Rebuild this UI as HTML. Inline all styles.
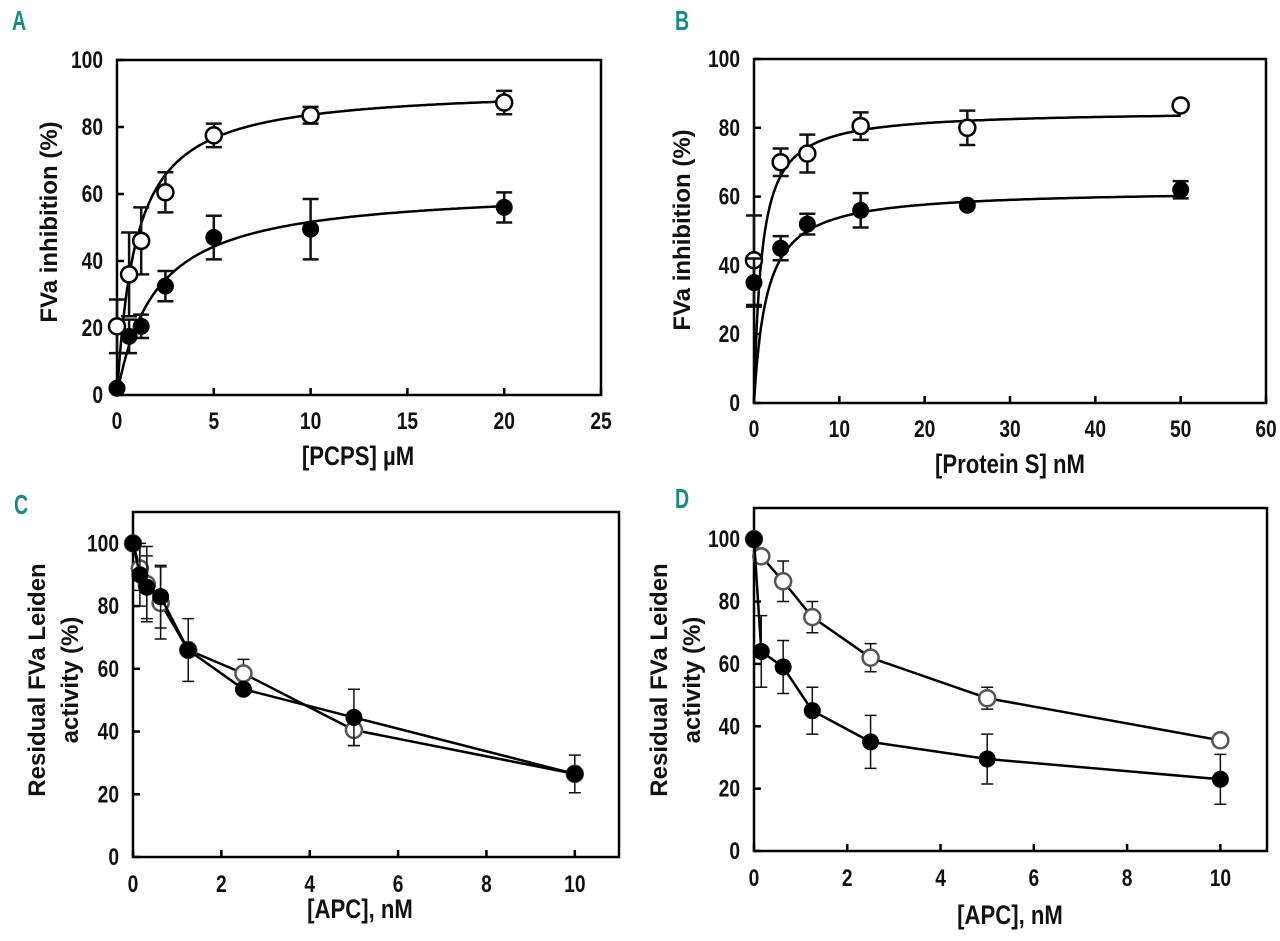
<!DOCTYPE html>
<html><head><meta charset="utf-8"><style>
body{margin:0;background:#fff;width:1280px;height:941px;overflow:hidden}
svg{display:block}
.tk{font-family:"Liberation Sans",sans-serif;font-weight:bold;font-size:24px;fill:#111}
.tt{font-family:"Liberation Sans",sans-serif;font-weight:bold;font-size:24px;fill:#111}
.xt{font-family:"Liberation Sans",sans-serif;font-weight:bold;font-size:27px;fill:#111}
.pl{font-family:"Liberation Sans",sans-serif;font-weight:bold;font-size:28px;fill:#1a8a84}
</style></head><body>
<svg id="fig" width="1280" height="941" viewBox="0 0 1280 941"></svg>
<script>
// Panel A data
const aX=[0,0.625,1.25,2.5,5,10,20];
const aOpen=[20.5,36,46,60.5,77.5,83.5,87.3];
const aOpenErr=[8,12.5,10,6,3.5,2.5,3.5];
const aFilled=[2,17.5,20.5,32.5,47,49.5,56];
const aFilledErr=[0,5,3.5,4.5,6.5,9,4.5];
const aFitOpen=[92,1.0];
const aFitFilled=[62,2];
const aXTicks=[0,5,10,15,20,25];
const aYTicks=[0,20,40,60,80,100];
// Panel B data
const bX=[0,3.125,6.25,12.5,25,50];
const bOpen=[41.5,70,72.5,80.5,80,86.5];
const bOpenErr=[13,4,5.5,4,5,0];
const bFilled=[35,45,52,56,57.5,62];
const bFilledErr=[7,3.5,3,5,0,2.5];
const bFitOpen=[85,0.9];
const bFitFilled=[62,1.5];
const bXTicks=[0,10,20,30,40,50,60];
const bYTicks=[0,20,40,60,80,100];
// Panel C data
const cX=[0,0.156,0.3125,0.625,1.25,2.5,5,10];
const cOpen=[100,92,87,81,66,58.5,40.5,26.5];
const cOpenErr=[0,7,12,11.5,10,4.5,5,6];
const cFilled=[100,90,86,83,66,53.5,44.5,26.5];
const cFilledErr=[0,10,10,10,0,0,9,0];
const cXTicks=[0,2,4,6,8,10];
const cYTicks=[0,20,40,60,80,100];
// Panel D data
const dX=[0,0.156,0.625,1.25,2.5,5,10];
const dOpen=[100,94.5,86.5,75,62,49,35.5];
const dOpenErr=[0,0,6.5,5,4.5,3.5,0];
const dFilled=[100,64,59,45,35,29.5,23];
const dFilledErr=[0,11.5,8.5,7.5,8.5,8,8];
const dXTicks=[0,2,4,6,8,10];
const dYTicks=[0,20,40,60,80,100];

const NS="http://www.w3.org/2000/svg";
const svg=document.getElementById('fig');
function el(tag,attrs,parent){const e=document.createElementNS(NS,tag);for(const k in attrs)e.setAttribute(k,attrs[k]);(parent||svg).appendChild(e);return e;}

function panel(cfg){
  const g=el('g',{});
  
  
  const sx=v=>cfg.x0+(v-cfg.xmin)/(cfg.xmax-cfg.xmin)*(cfg.x1-cfg.x0);
  const sy=v=>cfg.y0-(v-cfg.ymin)/(cfg.ymax-cfg.ymin)*(cfg.y0-cfg.y1);
  const box=el('rect',{x:cfg.x0,y:cfg.y1,width:cfg.x1-cfg.x0,height:cfg.y0-cfg.y1,fill:'none',stroke:'#000','stroke-width':2.5},g);
  
  
  cfg.xt.forEach(t=>{
    const X=sx(t);
    el('line',{x1:X,x2:X,y1:cfg.y0,y2:cfg.y0-7,stroke:'#000','stroke-width':2.5},g);
    const tx=el('text',{x:0,y:0,'text-anchor':'middle',class:'tk',transform:`translate(${X},${cfg.y0+cfg.xlabOff}) scale(0.8,1)`},g);
    tx.textContent=t;
    
    
  });
  cfg.yt.forEach(t=>{
    const Y=sy(t);
    el('line',{x1:cfg.x0,x2:cfg.x0+7,y1:Y,y2:Y,stroke:'#000','stroke-width':2.5},g);
    const tx=el('text',{x:0,y:0,'text-anchor':'end',class:'tk',transform:`translate(${cfg.x0-cfg.ylabOff},${Y+8}) scale(0.8,1)`},g);
    tx.textContent=t;
    
    
  });
  const lab=el('text',{x:0,y:0,class:'pl',transform:`translate(${cfg.lx},${cfg.ly}) scale(0.7,1)`},g);lab.textContent=cfg.id;
  
  
  const xt=el('text',{x:0,y:0,'text-anchor':'middle',class:'xt',transform:`translate(${cfg.xtx},${cfg.xty}) scale(0.82,1)`},g);xt.textContent=cfg.xtitle;
  
  
  cfg.ytitle.forEach((s,i)=>{
    const yt=el('text',{x:0,y:0,'text-anchor':'middle',class:'tt',transform:`translate(${cfg.ytx[i]},${cfg.yty}) rotate(-90)`},g);
    yt.textContent=s;
    
    
  });
  cfg.series.forEach(s=>{
    const sg=el('g',{},g);
    
    
    let d='';
    if(s.fit){
      for(let i=0;i<=300;i++){const v=cfg.xmin+(s.fitMax-cfg.xmin)*Math.pow(i/300,2);const y=s.fit[0]*v/(s.fit[1]+v);d+=(i?'L':'M')+sx(v).toFixed(1)+','+sy(y).toFixed(1);}
    } else {
      s.x.forEach((v,i)=>{d+=(i?'L':'M')+sx(v).toFixed(1)+','+sy(s.y[i]).toFixed(1);});
    }
    const p=el('path',{d:d,fill:'none',stroke:'#000','stroke-width':2.5},sg);
    
    
    s.x.forEach((v,i)=>{
      const X=sx(v),e=s.err[i];
      if(e>0){
        const eb=el('path',{d:`M${X},${sy(s.y[i]+e)}V${sy(s.y[i]-e)}M${X-cfg.cap},${sy(s.y[i]+e)}h${2*cfg.cap}M${X-cfg.cap},${sy(s.y[i]-e)}h${2*cfg.cap}`,stroke:'#111','stroke-width':cfg.ebw,fill:'none'},sg);
        
        
      }
    });
    s.x.forEach((v,i)=>{
      const c=el('circle',{cx:sx(v),cy:sy(s.y[i]),r:cfg.r,fill:s.open?'#fff':'#000',stroke:s.open?cfg.openStroke:'#000','stroke-width':s.open?2.5:1},sg);
      
      
    });
  });
}
panel({id:'A',x0:117,x1:601,y0:395,y1:60,xmin:0,xmax:25,ymin:0,ymax:100,xt:aXTicks,yt:aYTicks,xlabOff:34,ylabOff:14,
  lx:12,ly:30,xtitle:'[PCPS] µM',xtx:358,xty:465,ytitle:['FVa inhibition (%)'],ytx:[57],yty:222,cap:8,ebw:2.5,r:8,openStroke:'#000',
  series:[{name:'open',open:true,x:aX,y:aOpen,err:aOpenErr,fit:aFitOpen,fitMax:20},{name:'filled',open:false,x:aX,y:aFilled,err:aFilledErr,fit:aFitFilled,fitMax:20}]});
panel({id:'B',x0:754,x1:1266,y0:403,y1:59,xmin:0,xmax:60,ymin:0,ymax:100,xt:bXTicks,yt:bYTicks,xlabOff:34,ylabOff:14,
  lx:675,ly:30,xtitle:'[Protein S] nM',xtx:1010,xty:473,ytitle:['FVa inhibition (%)'],ytx:[690],yty:230,cap:8,ebw:2.5,r:8,openStroke:'#000',
  series:[{name:'open',open:true,x:bX,y:bOpen,err:bOpenErr,fit:bFitOpen,fitMax:50},{name:'filled',open:false,x:bX,y:bFilled,err:bFilledErr,fit:bFitFilled,fitMax:50}]});
panel({id:'C',x0:133,x1:619,y0:857,y1:512,xmin:0,xmax:11,ymin:0,ymax:110,xt:cXTicks,yt:cYTicks,xlabOff:35,ylabOff:14,
  lx:14,ly:514,xtitle:'[APC], nM',xtx:360,xty:918,ytitle:['Residual FVa Leiden','activity (%)'],ytx:[45,78],yty:680,cap:6,ebw:1.5,r:8,openStroke:'#555',
  series:[{name:'open',open:true,x:cX,y:cOpen,err:cOpenErr},{name:'filled',open:false,x:cX,y:cFilled,err:cFilledErr}]});
panel({id:'D',x0:754,x1:1267,y0:851,y1:508,xmin:0,xmax:11,ymin:0,ymax:110,xt:dXTicks,yt:dYTicks,xlabOff:35,ylabOff:14,
  lx:675,ly:508,xtitle:'[APC], nM',xtx:1010,xty:924,ytitle:['Residual FVa Leiden','activity (%)'],ytx:[667,700],yty:680,cap:6,ebw:1.5,r:8,openStroke:'#555',
  series:[{name:'open',open:true,x:dX,y:dOpen,err:dOpenErr},{name:'filled',open:false,x:dX,y:dFilled,err:dFilledErr}]});
</script>
</body></html>
